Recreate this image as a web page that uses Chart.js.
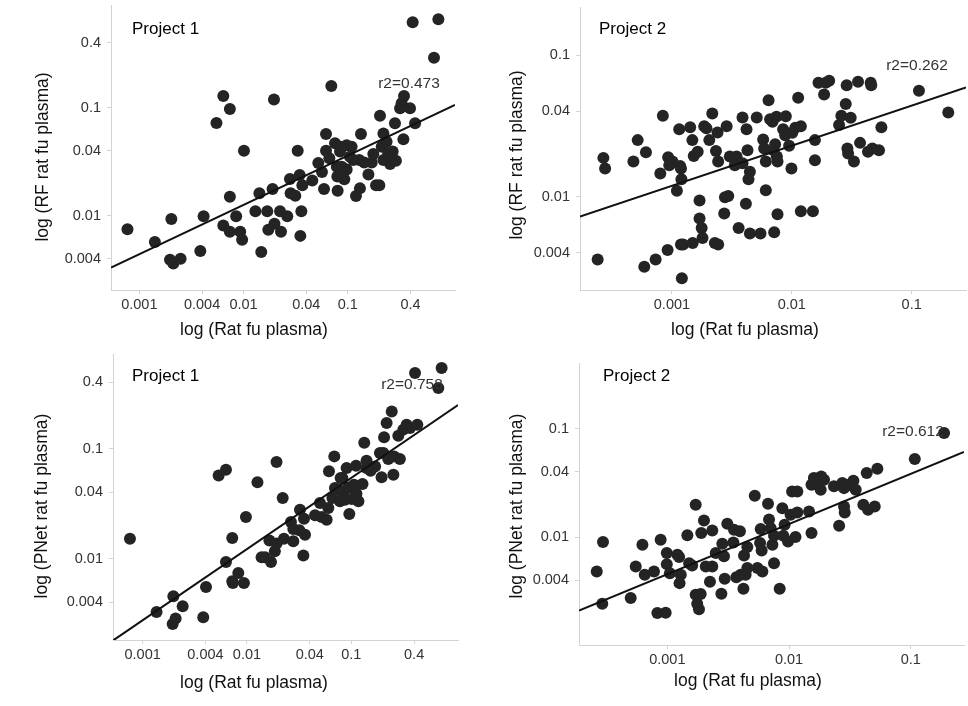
<!DOCTYPE html>
<html>
<head>
<meta charset="utf-8">
<script src="https://cdn.jsdelivr.net/npm/chart.js@4.4.0/dist/chart.umd.min.js"></script>
<style>
  body { margin: 0; background: #fff; }
  #wrap { position: relative; width: 968px; height: 706px; overflow: hidden; }
  canvas { position: absolute; }
</style>
</head>
<body>
<div id="wrap">
  <canvas id="rfP1"></canvas>
  <canvas id="rfP2"></canvas>
  <canvas id="pnP1"></canvas>
  <canvas id="pnP2"></canvas>
</div>
<script>
// tick labels
const ticksX1 = [0.001, 0.004, 0.01, 0.04, 0.1, 0.4];
const ticksX2 = [0.001, 0.01, 0.1];
const ticksY1 = [0.004, 0.01, 0.04, 0.1, 0.4];
const ticksY2 = [0.004, 0.01, 0.04, 0.1];

// RF vs rat fu plasma, Project 1
const rfP1X = [0.00077, 0.00141, 0.00203, 0.00197, 0.00212, 0.00249, 0.00385, 0.00414, 0.0055, 0.0064,
  0.0074, 0.0101, 0.0074, 0.0064, 0.0074, 0.0085, 0.0093, 0.0097, 0.013, 0.0142,
  0.0148, 0.0169, 0.0173, 0.019, 0.0196, 0.0198, 0.0224, 0.0229, 0.0263, 0.0279,
  0.0283, 0.0314, 0.0331, 0.0346, 0.0359, 0.0351, 0.0367, 0.0457, 0.0522, 0.0566,
  0.0592, 0.0619, 0.0619, 0.0666, 0.0696, 0.0755, 0.080, 0.0795, 0.0843, 0.0875,
  0.0927, 0.0977, 0.105, 0.109, 0.113, 0.0977, 0.120, 0.131, 0.134, 0.129,
  0.144, 0.158, 0.170, 0.176, 0.187, 0.201, 0.204, 0.220, 0.212, 0.220,
  0.236, 0.245, 0.255, 0.270, 0.284, 0.290, 0.318, 0.329, 0.347, 0.342,
  0.396, 0.443, 0.420, 0.741, 0.673, 0.0786, 0.0855, 0.0911];
const rfP1Y = [0.0075, 0.0057, 0.0093, 0.0039, 0.0036, 0.0040, 0.0047, 0.0099, 0.072, 0.128,
  0.097, 0.040, 0.015, 0.0081, 0.0071, 0.0099, 0.0071, 0.0060, 0.011, 0.0161,
  0.0046, 0.011, 0.0074, 0.0177, 0.119, 0.0084, 0.011, 0.0071, 0.0099, 0.0219,
  0.0161, 0.0153, 0.040, 0.0238, 0.011, 0.0065, 0.0191, 0.0212, 0.0307, 0.0254,
  0.0177, 0.057, 0.040, 0.034, 0.159, 0.0468, 0.017, 0.023, 0.0392, 0.0284,
  0.0217, 0.0268, 0.0352, 0.0435, 0.0328, 0.045, 0.0152, 0.0179, 0.057, 0.0328,
  0.031, 0.0241, 0.031, 0.0372, 0.0191, 0.0191, 0.0843, 0.0578, 0.0435, 0.0328,
  0.0484, 0.0378, 0.0301, 0.0392, 0.0716, 0.0323, 0.0986, 0.110, 0.128, 0.0509,
  0.0986, 0.0716, 0.617, 0.658, 0.290, 0.0284, 0.0435, 0.0274];

// RF vs rat fu plasma, Project 2
const rfP2X = [0.00024, 0.000268, 0.000277, 0.000477, 0.000518, 0.000607, 0.000588, 0.000731, 0.0008, 0.00084,
  0.00092, 0.00093, 0.00095, 0.00101, 0.0011, 0.00115, 0.00117, 0.0012, 0.00119, 0.00119,
  0.00124, 0.00121, 0.00142, 0.00148, 0.00149, 0.00152, 0.00164, 0.0017, 0.0017, 0.00177,
  0.0018, 0.00186, 0.00194, 0.00205, 0.00217, 0.00228, 0.00243, 0.00233, 0.00243, 0.0024,
  0.00286, 0.00273, 0.00277, 0.00295, 0.00304, 0.00346, 0.00335, 0.0036, 0.00388, 0.00419,
  0.00427, 0.00414, 0.00447, 0.00435, 0.00388, 0.00447, 0.0051, 0.00548, 0.00577, 0.00588,
  0.00607, 0.00607, 0.0064, 0.00659, 0.0069, 0.00703, 0.00713, 0.00726, 0.00745, 0.0075,
  0.0076, 0.0076, 0.00891, 0.00847, 0.0088, 0.0095, 0.00993, 0.0101, 0.0107, 0.0113,
  0.0119, 0.0119, 0.015, 0.0156, 0.0156, 0.0167, 0.0186, 0.0192, 0.0205, 0.0248,
  0.0259, 0.0282, 0.0287, 0.0291, 0.0295, 0.031, 0.033, 0.0357, 0.0371, 0.0432,
  0.0455, 0.046, 0.047, 0.0534, 0.0559, 0.115, 0.202];
const rfP2Y = [0.0036, 0.0188, 0.0158, 0.0177, 0.0251, 0.0206, 0.0032, 0.0036, 0.0146, 0.0373,
  0.0042, 0.019, 0.0167, 0.0177, 0.011, 0.0299, 0.0165, 0.0133, 0.0158, 0.0046,
  0.0046, 0.00265, 0.0309, 0.0251, 0.0047, 0.0194, 0.0208, 0.0094, 0.0070, 0.0060,
  0.0051, 0.0315, 0.0304, 0.0251, 0.0387, 0.0047, 0.0046, 0.021, 0.0177, 0.0284,
  0.0315, 0.0076, 0.0099, 0.0101, 0.0192, 0.0192, 0.0167, 0.0060, 0.0363, 0.0299,
  0.0213, 0.0089, 0.015, 0.0133, 0.0172, 0.0055, 0.0363, 0.0055, 0.0254, 0.0219,
  0.0177, 0.0111, 0.0481, 0.0352, 0.0339, 0.0213, 0.0056, 0.0235, 0.0367, 0.0192,
  0.0177, 0.0075, 0.037, 0.0299, 0.0272, 0.0229, 0.0158, 0.0283, 0.0307, 0.050,
  0.0315, 0.0079, 0.0079, 0.0251, 0.0181, 0.0638, 0.0528, 0.0638, 0.0659, 0.0321,
  0.0373, 0.0451, 0.0614, 0.0219, 0.0202, 0.0361, 0.0177, 0.0648, 0.024, 0.0208,
  0.0638, 0.0614, 0.0219, 0.0213, 0.0309, 0.056, 0.0394];

// PNet vs rat fu plasma, Project 1
const pnP1X = [0.000756, 0.00136, 0.00197, 0.00194, 0.00207, 0.00242, 0.00381, 0.00405, 0.00535, 0.00629,
  0.00629, 0.00723, 0.00723, 0.00733, 0.00826, 0.00935, 0.00977, 0.0126, 0.0138, 0.0149,
  0.0164, 0.017, 0.0185, 0.0192, 0.0192, 0.022, 0.0226, 0.0264, 0.0278, 0.0278,
  0.0322, 0.0318, 0.0347, 0.0352, 0.036, 0.0449, 0.0501, 0.052, 0.058, 0.0602,
  0.0611, 0.0658, 0.0687, 0.0697, 0.0778, 0.079, 0.0838, 0.0902, 0.0935, 0.0957,
  0.101, 0.106, 0.111, 0.112, 0.117, 0.128, 0.133, 0.140, 0.153, 0.169,
  0.195, 0.203, 0.206, 0.218, 0.244, 0.226, 0.253, 0.257, 0.282, 0.292,
  0.315, 0.339, 0.365, 0.429, 0.408, 0.734, 0.682, 0.075, 0.087, 0.107,
  0.082, 0.14, 0.188];
const pnP1Y = [0.0152, 0.00327, 0.00455, 0.00255, 0.00285, 0.00369, 0.00293, 0.00552, 0.0569, 0.0644,
  0.00933, 0.0154, 0.00622, 0.0060, 0.0074, 0.0060, 0.0239, 0.0494, 0.0103, 0.0103,
  0.0146, 0.00933, 0.0117, 0.0137, 0.0757, 0.0356, 0.0152, 0.0215, 0.0144, 0.0186,
  0.0279, 0.0181, 0.0107, 0.0231, 0.0165, 0.0248, 0.0321, 0.0239, 0.0226, 0.0289,
  0.0622, 0.0356, 0.0851, 0.0439, 0.0332, 0.0541, 0.0395, 0.0667, 0.0443, 0.0255,
  0.0349, 0.0471, 0.070, 0.039, 0.0332, 0.0477, 0.113, 0.0778, 0.063, 0.069,
  0.0549, 0.0914, 0.127, 0.171, 0.218, 0.0805, 0.058, 0.0851, 0.131, 0.0805,
  0.149, 0.165, 0.154, 0.165, 0.488, 0.541, 0.356, 0.0424, 0.0344, 0.0424,
  0.0541, 0.0667, 0.0914];

// PNet vs rat fu plasma, Project 2
const pnP2X = [0.000263, 0.000292, 0.000296, 0.0005, 0.00055, 0.000624, 0.000652, 0.000777, 0.000828, 0.000881,
  0.000969, 0.00099, 0.00099, 0.00105, 0.00121, 0.00125, 0.00129, 0.00126, 0.00146, 0.00151,
  0.0016, 0.00171, 0.00171, 0.00176, 0.00182, 0.00188, 0.0019, 0.002, 0.00207, 0.00224,
  0.00234, 0.00234, 0.0025, 0.00278, 0.00283, 0.00292, 0.00296, 0.00311, 0.00349, 0.00353,
  0.00369, 0.00395, 0.00401, 0.00422, 0.00427, 0.0044, 0.00454, 0.00454, 0.00523, 0.0055,
  0.00578, 0.00604, 0.00596, 0.00585, 0.00672, 0.00685, 0.00707, 0.0073, 0.00753, 0.00753,
  0.00838, 0.00881, 0.00898, 0.0092, 0.00981, 0.0103, 0.0106, 0.0113, 0.0117, 0.0117,
  0.0146, 0.0153, 0.0153, 0.016, 0.0182, 0.0184, 0.0194, 0.0234, 0.0258, 0.0274,
  0.0283, 0.0283, 0.0287, 0.0338, 0.0353, 0.0408, 0.0435, 0.0446, 0.0506, 0.0532,
  0.108, 0.188, 0.0311, 0.0171];
const pnP2Y = [0.00482, 0.00243, 0.009, 0.00274, 0.00536, 0.0085, 0.00449, 0.00482, 0.00199, 0.00945,
  0.0020, 0.00712, 0.00563, 0.00465, 0.00687, 0.00654, 0.00449, 0.00376, 0.0104, 0.00575,
  0.00548, 0.0199, 0.00294, 0.00243, 0.00216, 0.00298, 0.0109, 0.0142, 0.00536, 0.00387,
  0.0115, 0.00536, 0.00712, 0.0030, 0.00868, 0.00664, 0.00412, 0.0133, 0.00893, 0.0117,
  0.00427, 0.0113, 0.00449, 0.00334, 0.00677, 0.00449, 0.00809, 0.00518, 0.0241, 0.00518,
  0.0088, 0.00482, 0.00754, 0.0119, 0.0203, 0.0145, 0.0121, 0.0085, 0.00575, 0.0103,
  0.00334, 0.0185, 0.0103, 0.013, 0.00912, 0.0161, 0.0264, 0.010, 0.0264, 0.0169,
  0.0172, 0.0304, 0.0109, 0.0351, 0.0273, 0.0363, 0.0338, 0.0294, 0.0127, 0.0315,
  0.0283, 0.0192, 0.0169, 0.0331, 0.0273, 0.0199, 0.039, 0.0179, 0.0192, 0.0427,
  0.0525, 0.0912, 0.0304, 0.0304];

// regression lines, end points
const fitRfP1X = [0.000535, 1.07];
const fitRfP1Y = [0.00331, 0.106];
const fitRfP2X = [0.000171, 0.284];
const fitRfP2Y = [0.00723, 0.0592];
const fitPnP1X = [0.00052, 1.053];
const fitPnP1Y = [0.0018, 0.249];
const fitPnP2X = [0.000188, 0.274];
const fitPnP2Y = [0.0021, 0.061];

const FONT = '"Liberation Sans", Arial, sans-serif';
const PANEL_W = 484, PANEL_H = 353;
// extra room round each canvas so the point overflow padding does not move the plot area
const PAD = 12;

// draws the project label, r2 and axis titles
const panelText = {
  id: 'panelText',
  afterDraw(chart, args, o) {
    const ctx = chart.ctx;
    ctx.save();
    ctx.translate(PAD, PAD);
    ctx.textBaseline = 'middle';

    ctx.fillStyle = '#000';
    ctx.font = '17px ' + FONT;
    ctx.textAlign = 'left';
    ctx.fillText(o.project, o.projectAt[0], o.projectAt[1]);

    ctx.fillStyle = '#333';
    ctx.font = '15.5px ' + FONT;
    ctx.textAlign = 'center';
    ctx.fillText(o.r2, o.r2At[0], o.r2At[1]);

    ctx.fillStyle = '#111';
    ctx.font = '17.5px ' + FONT;
    ctx.fillText(o.xTitle, o.xTitleAt[0], o.xTitleAt[1]);

    ctx.translate(o.yTitleAt[0], o.yTitleAt[1]);
    ctx.rotate(-Math.PI / 2);
    ctx.fillText(o.yTitle, 0, 0);
    ctx.restore();
  }
};

function toPoints(xs, ys) {
  return xs.map((x, i) => ({ x: x, y: ys[i] }));
}

function makePanel(id, p) {
  const canvas = document.getElementById(id);
  const W = PANEL_W + 2 * PAD, H = PANEL_H + 2 * PAD;
  canvas.width = W;
  canvas.height = H;
  canvas.style.left = (p.origin[0] - PAD) + 'px';
  canvas.style.top = (p.origin[1] - PAD) + 'px';

  const axisColor = '#d3d3d3';
  const tickFont = { family: FONT, size: 14.5 };
  new Chart(canvas, {
    type: 'scatter',
    data: {
      datasets: [
        {
          data: toPoints(p.fitX, p.fitY),
          showLine: true,
          borderColor: '#111',
          borderWidth: 2,
          pointRadius: 0,
          fill: false
        },
        {
          data: toPoints(p.xs, p.ys),
          backgroundColor: '#242424',
          borderWidth: 0,
          pointRadius: 6
        }
      ]
    },
    options: {
      responsive: false,
      animation: false,
      events: [],
      layout: {
        padding: { left: 0, top: PAD + p.area.top, right: W - PAD - p.area.right, bottom: 0 }
      },
      plugins: {
        legend: { display: false },
        tooltip: { enabled: false },
        panelText: p.text
      },
      scales: {
        x: {
          type: 'logarithmic',
          bounds: 'data',
          min: p.xMin,
          max: p.xMax,
          afterBuildTicks: s => { s.ticks = p.xTicks.map(v => ({ value: v })); },
          afterFit: s => {
            s.height = H - PAD - p.area.bottom;
            s.paddingLeft = 0;
            s.paddingRight = 0;
          },
          ticks: { callback: v => String(v), autoSkip: false, maxRotation: 0, padding: 2, color: '#333', font: tickFont },
          grid: { drawOnChartArea: false, drawTicks: true, tickLength: 4, color: axisColor },
          border: { color: axisColor, width: 1 }
        },
        y: {
          type: 'logarithmic',
          bounds: 'data',
          min: p.yMin,
          max: p.yMax,
          afterBuildTicks: s => { s.ticks = p.yTicks.map(v => ({ value: v })); },
          afterFit: s => {
            s.width = PAD + p.area.left;
            s.paddingTop = 0;
            s.paddingBottom = 0;
          },
          ticks: { callback: v => String(v), autoSkip: false, padding: 6, color: '#333', font: tickFont },
          grid: { drawOnChartArea: false, drawTicks: true, tickLength: 4, color: axisColor },
          border: { color: axisColor, width: 1 }
        }
      }
    },
    plugins: [panelText]
  });
}

makePanel('rfP1', {
  xs: rfP1X, ys: rfP1Y, fitX: fitRfP1X, fitY: fitRfP1Y,
  xTicks: ticksX1, yTicks: ticksY1,
  xMin: 0.000535, xMax: 1.07, yMin: 0.00205, yMax: 0.893,
  origin: [0, 0],
  area: { left: 111, right: 455, top: 5, bottom: 290 },
  text: {
    project: 'Project 1', projectAt: [132, 29],
    r2: 'r2=0.473', r2At: [409, 84],
    xTitle: 'log (Rat fu plasma)', xTitleAt: [254, 330],
    yTitle: 'log (RF rat fu plasma)', yTitleAt: [43, 157]
  }
});

makePanel('rfP2', {
  xs: rfP2X, ys: rfP2Y, fitX: fitRfP2X, fitY: fitRfP2Y,
  xTicks: ticksX2, yTicks: ticksY2,
  xMin: 0.000171, xMax: 0.284, yMin: 0.00219, yMax: 0.219,
  origin: [484, 0],
  area: { left: 96, right: 482, top: 7, bottom: 290 },
  text: {
    project: 'Project 2', projectAt: [115, 29],
    r2: 'r2=0.262', r2At: [433, 66],
    xTitle: 'log (Rat fu plasma)', xTitleAt: [261, 330],
    yTitle: 'log (RF rat fu plasma)', yTitleAt: [33, 155]
  }
});

makePanel('pnP1', {
  xs: pnP1X, ys: pnP1Y, fitX: fitPnP1X, fitY: fitPnP1Y,
  xTicks: ticksX1, yTicks: ticksY1,
  xMin: 0.00052, xMax: 1.053, yMin: 0.00182, yMax: 0.726,
  origin: [0, 353],
  area: { left: 113, right: 458, top: 1, bottom: 287 },
  text: {
    project: 'Project 1', projectAt: [132, 23],
    r2: 'r2=0.758', r2At: [412, 32],
    xTitle: 'log (Rat fu plasma)', xTitleAt: [254, 330],
    yTitle: 'log (PNet rat fu plasma)', yTitleAt: [42, 153]
  }
});

makePanel('pnP2', {
  xs: pnP2X, ys: pnP2Y, fitX: fitPnP2X, fitY: fitPnP2Y,
  xTicks: ticksX2, yTicks: ticksY2,
  xMin: 0.000188, xMax: 0.274, yMin: 0.00101, yMax: 0.404,
  origin: [484, 353],
  area: { left: 95, right: 480, top: 10, bottom: 292 },
  text: {
    project: 'Project 2', projectAt: [119, 23],
    r2: 'r2=0.612', r2At: [429, 79],
    xTitle: 'log (Rat fu plasma)', xTitleAt: [264, 328],
    yTitle: 'log (PNet rat fu plasma)', yTitleAt: [33, 153]
  }
});
</script>
</body>
</html>
